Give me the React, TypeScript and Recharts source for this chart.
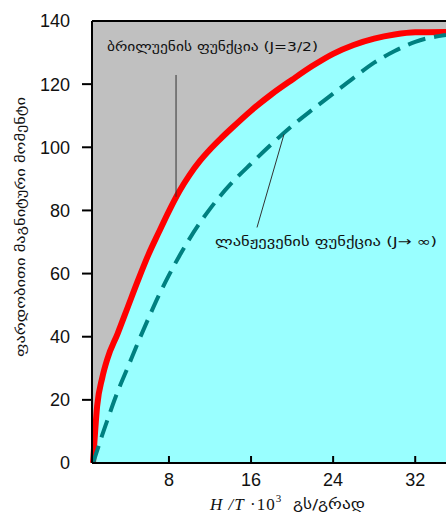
import React from 'react';
import {
  ComposedChart,
  Area,
  Line,
  XAxis,
  YAxis,
  CartesianGrid,
  ReferenceLine,
} from 'recharts';

// H/T * 10^3 positions
const fieldValues = [0.6, 1, 1.5, 2, 3, 4, 5, 6, 7, 8, 9, 10, 11, 12, 13, 14, 16, 18, 20, 22, 24, 26, 28, 30, 32, 35];
// Brillouin function (J=3/2)
const brillouin = [0, 18, 27, 33, 41, 49.5, 58, 66, 73, 79.8, 86, 91.2, 95.6, 99.3, 102.6, 105.7, 111.6, 116.8, 121.4, 125.8, 129.6, 132.4, 134.4, 135.7, 136.4, 136.5];
// Langevin function (J -> infinity)
const langevin = [0, 3.9, 8.9, 13.6, 22.6, 30.4, 38.3, 45.8, 53, 59.5, 65.5, 71, 76, 80.5, 84.6, 88.3, 94.8, 101, 106.8, 112, 117, 122, 126.8, 130.5, 133.4, 135.6];

const xTicks = [8, 16, 24, 32];
const yTicks = [0, 20, 40, 60, 80, 100, 120, 140];

const data = fieldValues.map((x, i) => ({ x, brillouin: brillouin[i], langevin: langevin[i] }));

const tickFont = '"Liberation Sans", Arial, sans-serif';
const geoFont = '"DejaVu Sans", sans-serif';

function YTick(props: any) {
  const { x, y, payload } = props;
  const v = payload.value;
  return (
    <g>
      {v > 0 && v < 140 && <line x1={x - 10} y1={y} x2={x} y2={y} stroke="#000" strokeWidth={2} />}
      <text x={x - 22} y={y} dy="0.36em" textAnchor="end" fontSize={18} fontFamily={tickFont} fill="#111">
        {v}
      </text>
    </g>
  );
}

function XTick(props: any) {
  const { x, y, payload } = props;
  return (
    <g>
      <line x1={x} y1={y} x2={x} y2={y - 7} stroke="#000" strokeWidth={2} />
      <text x={x} y={y + 23} textAnchor="middle" fontSize={18} fontFamily={tickFont} fill="#111">
        {payload.value}
      </text>
    </g>
  );
}

export default function App() {
  return (
    <div style={{ position: 'absolute', top: 0, left: 0, width: 446, height: 515, background: '#fff' }}>
      <ComposedChart width={446} height={515} data={data} margin={{ top: 21, right: 0, left: 0, bottom: 0 }}>
        <CartesianGrid fill="#c0c0c0" stroke="none" horizontal={false} vertical={false} />
        <XAxis
          dataKey="x"
          type="number"
          domain={[0.5, 35]}
          ticks={xTicks}
          height={52}
          tickSize={0}
          tickMargin={0}
          tickLine={false}
          axisLine={{ stroke: '#000', strokeWidth: 2 }}
          tick={<XTick />}
        />
        <YAxis
          type="number"
          domain={[0, 140]}
          ticks={yTicks}
          width={92}
          tickSize={0}
          tickMargin={0}
          tickLine={false}
          axisLine={{ stroke: '#000', strokeWidth: 2 }}
          tick={<YTick />}
        />
        <Area
          type="monotone"
          dataKey="brillouin"
          stroke="#ff0000"
          strokeWidth={6}
          fill="#99ffff"
          fillOpacity={1}
          isAnimationActive={false}
        />
        <Line
          type="monotone"
          dataKey="langevin"
          stroke="#008080"
          strokeWidth={4}
          strokeDasharray="18 9"
          dot={false}
          isAnimationActive={false}
        />
        <ReferenceLine y={140} stroke="#000" strokeWidth={2} />
        <ReferenceLine segment={[{ x: 8.69, y: 122.9 }, { x: 8.69, y: 84.3 }]} stroke="#333" strokeWidth={1} />
        <ReferenceLine segment={[{ x: 16.58, y: 74.6 }, { x: 19.21, y: 104.1 }]} stroke="#333" strokeWidth={1} />
      </ComposedChart>
      <svg width={446} height={515} style={{ position: 'absolute', top: 0, left: 0, pointerEvents: 'none' }}>
        <text x={107} y={51} fontSize={13} fontFamily={geoFont} fill="#111" textLength={211} lengthAdjust="spacingAndGlyphs">
          ბრილუენის ფუნქცია (J=3/2)
        </text>
        <text x={215} y={246} fontSize={13} fontFamily={geoFont} fill="#111" textLength={222} lengthAdjust="spacingAndGlyphs">
          ლანჟევენის  ფუნქცია (J→ ∞)
        </text>
        <text
          x={0}
          y={0}
          transform="translate(25,227) rotate(-90)"
          textAnchor="middle"
          fontSize={13}
          fontFamily={geoFont}
          fill="#111"
          textLength={260}
          lengthAdjust="spacingAndGlyphs"
        >
          ფარდობითი მაგნიტური მომენტი
        </text>
        <text x={210} y={510} fontSize={17} fontFamily='"Liberation Serif", serif' fill="#111" letterSpacing={1}>
          <tspan fontStyle="italic">H /T</tspan>
          <tspan> ·10</tspan>
          <tspan dy={-8} fontSize={11}>3</tspan>
        </text>
        <text x={293} y={509} fontSize={14} fontFamily={geoFont} fill="#111" textLength={72} lengthAdjust="spacingAndGlyphs">
          გს/გრად
        </text>
      </svg>
    </div>
  );
}
